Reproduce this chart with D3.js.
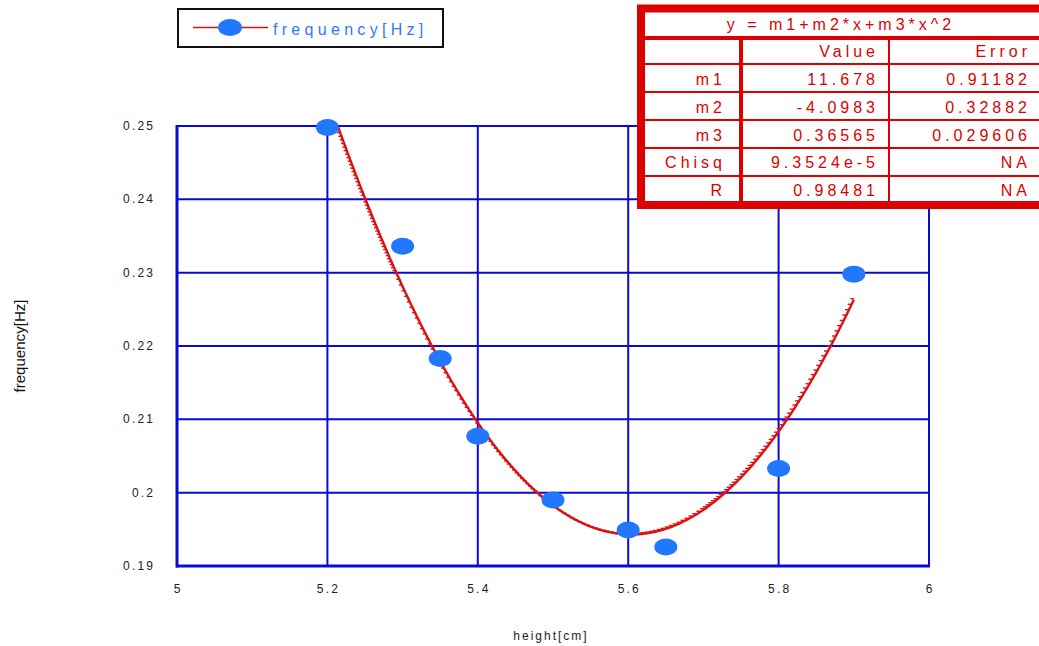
<!DOCTYPE html>
<html>
<head>
<meta charset="utf-8">
<script src="https://cdn.jsdelivr.net/npm/d3@7/dist/d3.min.js"></script>
<style>
  html, body { margin: 0; padding: 0; background: #fff; }
  svg { display: block; font-family: "Liberation Sans", Arial, sans-serif; }
</style>
</head>
<body>
<svg id="chart" width="1039" height="646"></svg>
<script>
// measured oscillation data
const heights = [5.2, 5.3, 5.35, 5.4, 5.5, 5.6, 5.65, 5.8, 5.9];
const freqs   = [0.2498, 0.2336, 0.2183, 0.2077, 0.1990, 0.1949, 0.1926, 0.2033, 0.2298];

// quadratic fit y = m1 + m2*x + m3*x^2
const fitNames  = ["m1", "m2", "m3"];
const fitValues = [11.678, -4.0983, 0.36565];
const fitErrors = [0.91182, 0.32882, 0.029606];
const fitRange  = [5.2, 5.9];

// result table text
const tableTitle = "y = m1+m2*x+m3*x^2";
const tableHeader = ["", "Value", "Error"];
const tableRows = [
  ["m1", "11.678", "0.91182"],
  ["m2", "-4.0983", "0.32882"],
  ["m3", "0.36565", "0.029606"],
  ["Chisq", "9.3524e-5", "NA"],
  ["R", "0.98481", "NA"]
];

const xTicks = [5, 5.2, 5.4, 5.6, 5.8, 6];
const yTicks = [0.19, 0.2, 0.21, 0.22, 0.23, 0.24, 0.25];
const xTickLabels = ["5", "5.2", "5.4", "5.6", "5.8", "6"];
const yTickLabels = ["0.19", "0.2", "0.21", "0.22", "0.23", "0.24", "0.25"];

const svg = d3.select("#chart");
const pLeft = 177, pRight = 929, pTop = 126, pBottom = 566;
const x = d3.scaleLinear().domain([5, 6]).range([pLeft, pRight]);
const y = d3.scaleLinear().domain([0.19, 0.25]).range([pBottom, pTop]);

const gridColor = "#0a0ad8";
const axisText = "#222";

// grid
const grid = svg.append("g");
grid.selectAll("line.v").data(xTicks).join("line")
  .attr("x1", d => x(d)).attr("x2", d => x(d))
  .attr("y1", pTop).attr("y2", pBottom)
  .attr("stroke", gridColor).attr("stroke-width", 2);
grid.selectAll("line.h").data(yTicks).join("line")
  .attr("x1", pLeft).attr("x2", pRight)
  .attr("y1", d => y(d)).attr("y2", d => y(d))
  .attr("stroke", gridColor).attr("stroke-width", 2);
// heavier axis lines
grid.append("line").attr("x1", pLeft).attr("x2", pLeft).attr("y1", pTop - 1).attr("y2", pBottom + 1.5)
  .attr("stroke", gridColor).attr("stroke-width", 3);
grid.append("line").attr("x1", pLeft - 1).attr("x2", pRight + 1).attr("y1", pBottom).attr("y2", pBottom)
  .attr("stroke", gridColor).attr("stroke-width", 3);

// tick labels
const ls = 2.2;
svg.append("g").selectAll("text").data(yTicks).join("text")
  .attr("x", 153 + ls).attr("y", d => y(d))
  .attr("text-anchor", "end").attr("dominant-baseline", "central")
  .attr("font-size", 12).attr("letter-spacing", ls).attr("fill", axisText)
  .text((d, i) => yTickLabels[i]);
svg.append("g").selectAll("text").data(xTicks).join("text")
  .attr("x", d => x(d) + ls / 2).attr("y", 589)
  .attr("text-anchor", "middle").attr("dominant-baseline", "central")
  .attr("font-size", 12).attr("letter-spacing", ls).attr("fill", axisText)
  .text((d, i) => xTickLabels[i]);

// axis titles
svg.append("text").attr("x", 550 + 1).attr("y", 636)
  .attr("text-anchor", "middle").attr("dominant-baseline", "central")
  .attr("font-size", 12).attr("letter-spacing", 2).attr("fill", axisText)
  .text("height[cm]");
svg.append("text")
  .attr("transform", "translate(20,346) rotate(-90)")
  .attr("text-anchor", "middle").attr("dominant-baseline", "central")
  .attr("font-size", 14).attr("textLength", 93).attr("lengthAdjust", "spacingAndGlyphs")
  .attr("fill", "#111")
  .text("frequency[Hz]");

// fitted curve, clipped to the plot frame
svg.append("clipPath").attr("id", "plotClip")
  .append("rect").attr("x", pLeft).attr("y", pTop).attr("width", pRight - pLeft).attr("height", pBottom - pTop);
const fit = xv => fitValues[0] + fitValues[1] * xv + fitValues[2] * xv * xv;
const n = 400;
const curvePts = d3.range(n + 1).map(i => {
  const xv = fitRange[0] + (fitRange[1] - fitRange[0]) * i / n;
  return [xv, fit(xv)];
});
// serration marks spaced evenly along the curve
const markPts = [];
let acc = 0;
for (let i = 1; i < curvePts.length; i++) {
  const dx = x(curvePts[i][0]) - x(curvePts[i - 1][0]);
  const dy = y(curvePts[i][1]) - y(curvePts[i - 1][1]);
  acc += Math.hypot(dx, dy);
  if (acc >= 3.2) { markPts.push(curvePts[i]); acc = 0; }
}
const fitG = svg.append("g").attr("clip-path", "url(#plotClip)");
fitG.append("path")
  .attr("d", d3.line().x(d => x(d[0])).y(d => y(d[1]))(curvePts))
  .attr("fill", "none").attr("stroke", "#dd1111").attr("stroke-width", 2.4);
fitG.selectAll("line.tick").data(markPts).join("line")
  .attr("x1", d => x(d[0]) - 3.5).attr("x2", d => x(d[0]) + 0.5)
  .attr("y1", d => y(d[1]) - 1).attr("y2", d => y(d[1]) - 1)
  .attr("stroke", "#dd1111").attr("stroke-width", 1.4);

// data markers
const markerColor = "#2277ff";
svg.append("g").selectAll("ellipse").data(heights).join("ellipse")
  .attr("cx", d => x(d)).attr("cy", (d, i) => y(freqs[i]))
  .attr("rx", 11.5).attr("ry", 8.5).attr("fill", markerColor);

// legend
const lg = svg.append("g");
lg.append("rect").attr("x", 178).attr("y", 9).attr("width", 265).attr("height", 38)
  .attr("fill", "#fff").attr("stroke", "#111").attr("stroke-width", 2);
lg.append("line").attr("x1", 193).attr("x2", 268).attr("y1", 27.5).attr("y2", 27.5)
  .attr("stroke", "#dd1111").attr("stroke-width", 1.5);
lg.append("ellipse").attr("cx", 230).attr("cy", 27.5).attr("rx", 12).attr("ry", 8.5).attr("fill", markerColor);
lg.append("text").attr("x", 273).attr("y", 29)
  .attr("dominant-baseline", "central").attr("font-size", 16).attr("letter-spacing", 4.3)
  .attr("fill", "#3377ff").text("frequency[Hz]");

// parameter table
const red = "#dd0000";
const tg = svg.append("g");
const tx0 = 641, tx1 = 1046, ty0 = 8.5, ty1 = 205;
tg.append("rect").attr("x", tx0).attr("y", ty0).attr("width", tx1 - tx0).attr("height", ty1 - ty0)
  .attr("fill", "#fff").attr("stroke", red).attr("stroke-width", 8);
const rowLines = [64, 92, 120, 148, 176];
tg.append("line").attr("x1", tx0).attr("x2", tx1).attr("y1", 38).attr("y2", 38)
  .attr("stroke", red).attr("stroke-width", 4);
tg.selectAll("line.row").data(rowLines).join("line")
  .attr("x1", tx0).attr("x2", tx1).attr("y1", d => d).attr("y2", d => d)
  .attr("stroke", red).attr("stroke-width", 2);
tg.append("line").attr("x1", 741).attr("x2", 741).attr("y1", 38).attr("y2", ty1)
  .attr("stroke", red).attr("stroke-width", 4);
tg.append("line").attr("x1", 889).attr("x2", 889).attr("y1", 38).attr("y2", ty1)
  .attr("stroke", red).attr("stroke-width", 2);

const tls = 4;
tg.append("text").attr("x", 839 + tls / 2).attr("y", 24)
  .attr("text-anchor", "middle").attr("dominant-baseline", "central")
  .attr("font-size", 16).attr("letter-spacing", tls).attr("fill", red).text(tableTitle);
const colRight = [722, 875, 1027];
const rowCenters = [51, 79, 107, 135, 162, 190];
const allRows = [tableHeader].concat(tableRows);
allRows.forEach((row, ri) => {
  row.forEach((cell, ci) => {
    if (!cell) return;
    tg.append("text").attr("x", colRight[ci] + tls).attr("y", rowCenters[ri])
      .attr("text-anchor", "end").attr("dominant-baseline", "central")
      .attr("font-size", 16).attr("letter-spacing", tls).attr("fill", red).text(cell);
  });
});
</script>
</body>
</html>
